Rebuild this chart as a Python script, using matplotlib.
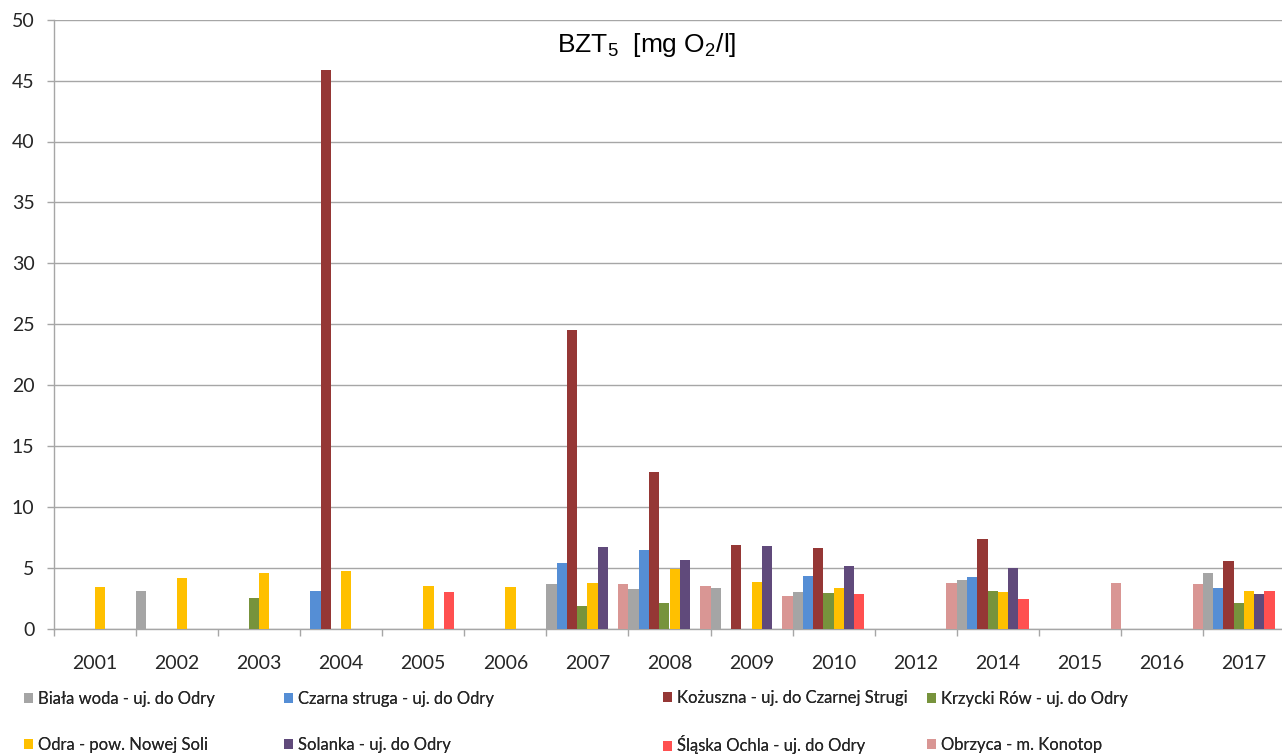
import numpy as np
import matplotlib.pyplot as plt
from matplotlib import font_manager

nan = np.nan

years = ["2001", "2002", "2003", "2004", "2005", "2006", "2007", "2008",
         "2009", "2010", "2012", "2014", "2015", "2016", "2017"]

biala = [nan, 3.12, nan, nan, nan, nan, 3.67, 3.23, 3.31, 3.04, nan, 4.02, nan, nan, 4.57]
czarna = [nan, nan, nan, 3.12, nan, nan, 5.39, 6.48, nan, 4.32, nan, 4.21, nan, nan, 3.31]
kozuszna = [nan, nan, nan, 45.85, nan, nan, 24.56, 12.83, 6.84, 6.60, nan, 7.36, nan, nan, 5.58]
krzycki = [nan, nan, 2.49, nan, nan, nan, 1.86, 2.13, nan, 2.93, nan, 3.12, nan, nan, 2.13]
odra = [3.40, 4.13, 4.57, 4.73, 3.48, 3.40, 3.75, 4.92, 3.86, 3.31, nan, 3.04, nan, nan, 3.12]
solanka = [nan, nan, nan, nan, nan, nan, 6.68, 5.66, 6.76, 5.14, nan, 4.95, nan, nan, 2.85]
slaska = [nan, nan, nan, nan, 3.04, nan, nan, nan, nan, 2.85, nan, 2.41, nan, nan, 3.12]
obrzyca = [nan, nan, nan, nan, nan, nan, nan, 3.67, 3.48, 2.66, nan, 3.75, nan, 3.75, 3.67]

labels = ["Biała woda - uj. do Odry", "Czarna struga - uj. do Odry",
          "Kożuszna - uj. do Czarnej Strugi", "Krzycki Rów - uj. do Odry",
          "Odra - pow. Nowej Soli", "Solanka - uj. do Odry",
          "Śląska Ochla - uj. do Odry", "Obrzyca - m. Konotop"]
values = [biala, czarna, kozuszna, krzycki, odra, solanka, slaska, obrzyca]
colors = ["#A5A5A5", "#558ED5", "#953735", "#77933C",
          "#FFC000", "#604A7B", "#FF5050", "#D99694"]

# order of bars inside a group (Obrzyca is drawn first)
slot = [1, 2, 3, 4, 5, 6, 7, 0]

plt.rcParams["mathtext.fontset"] = "custom"
plt.rcParams["mathtext.rm"] = "Liberation Sans"
plt.rcParams["mathtext.it"] = "Liberation Sans"

names = {f.name for f in font_manager.fontManager.ttflist}
if "Liberation Sans Narrow" in names:
    leg_font = {"family": "Liberation Sans Narrow", "size": 13}
else:
    leg_font = {"family": "Lato", "size": 12}

W, H = 1282, 756
fig = plt.figure(figsize=(W / 100, H / 100), dpi=100)
ax = fig.add_axes([54 / W, (H - 628.7) / H, 1231 / W, 609 / H])

x = np.arange(len(years))
bw = 1 / 8
handles = []
for k in range(8):
    b = ax.bar(x + (slot[k] - 4.5) * bw, values[k], width=bw,
               color=colors[k], linewidth=0, label=labels[k], zorder=3)
    handles.append(b)

grid_c = "#A6A6A6"
ax.set_xlim(-0.5, len(years) - 0.5)
ax.set_ylim(0, 50)
ax.set_yticks(np.arange(0, 51, 5))
ax.yaxis.grid(True, color=grid_c, linewidth=1.0, zorder=0)
ax.set_axisbelow(True)

for s in ["top", "right"]:
    ax.spines[s].set_visible(False)
for s in ["left", "bottom"]:
    ax.spines[s].set_color(grid_c)
    ax.spines[s].set_linewidth(1.0)

# category tick marks between groups, labels at centers
ax.set_xticks(np.arange(-0.5, len(years), 1.0))
ax.set_xticklabels([])
ax.set_xticks(x, minor=True)
ax.set_xticklabels(years, minor=True)
ax.tick_params(axis="x", which="major", length=5, color=grid_c, width=1.0)
ax.tick_params(axis="x", which="minor", length=0, pad=19)
ax.tick_params(axis="y", length=5, color=grid_c, width=1.0, pad=9)

for t in ax.get_xticklabels(minor=True) + ax.get_yticklabels():
    t.set_fontfamily("Lato")
    t.set_fontsize(14)
    t.set_color("#262626")

fig.text(647 / W, 1 - 45 / H, r"BZT$_5$  [mg O$_2$/l]", ha="center", va="center",
         fontsize=19, family="Liberation Sans", color="#000000")

col_x = [24, 284, 663, 927]
for c in range(4):
    leg = fig.legend(handles=[handles[c], handles[c + 4]],
                     labels=[labels[c], labels[c + 4]],
                     loc="center left", bbox_to_anchor=(col_x[c] / W, 1 - 722 / H),
                     frameon=False, borderpad=0, borderaxespad=0,
                     handlelength=0.55, handleheight=0.55, handletextpad=0.3,
                     labelspacing=1.8, prop=leg_font)
    for t in leg.get_texts():
        t.set_color("#262626")
    fig.add_artist(leg)

fig.savefig("out.png", dpi=100)
